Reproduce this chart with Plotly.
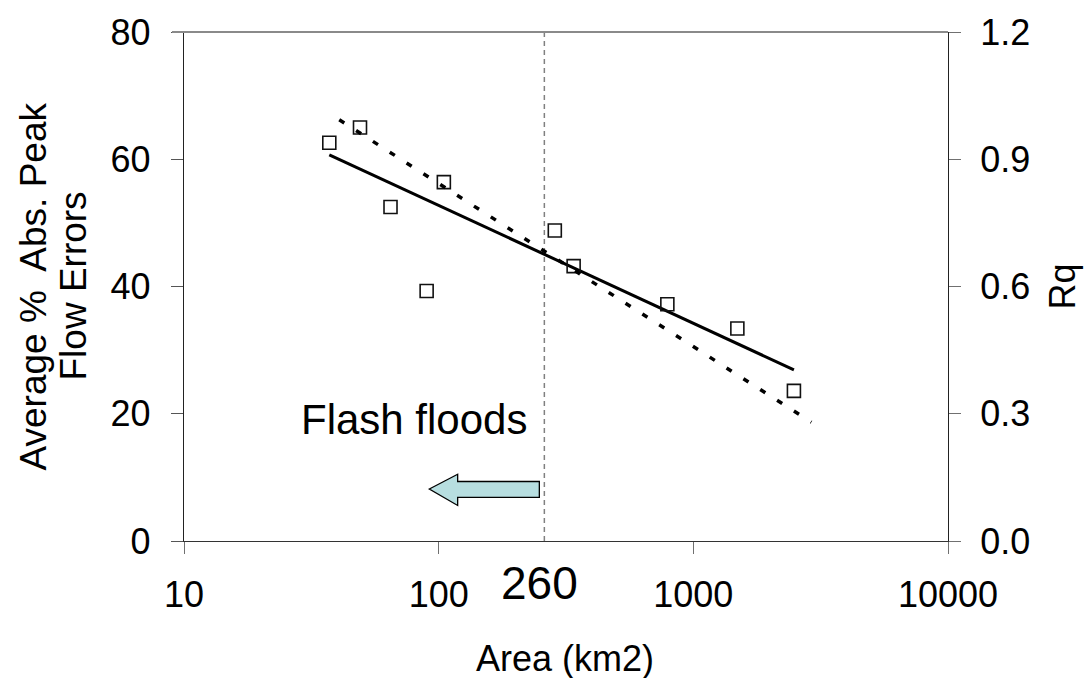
import plotly.graph_objects as go

# ---- data ----
area_km2 = [37.2, 49.1, 64.7, 89.7, 104.8, 285.8, 338.8, 790.6, 1489, 2483]
abs_peak_err = [62.6, 65.0, 52.5, 39.3, 56.4, 48.8, 43.2, 37.2, 33.4, 23.6]

trend_area = [37.2, 2483]
trend_err = [60.7, 26.9]

rq_area = [40.7, 2907]
rq_values = [0.993, 0.280]

threshold_area = 260
x_tickvals = [10, 100, 1000, 10000]
x_ticktext = ["10", "100", "1000", "10000"]
y_tickvals = [0, 20, 40, 60, 80]
y2_tickvals = [0, 0.3, 0.6, 0.9, 1.2]
y2_ticktext = ["0.0", "0.3", "0.6", "0.9", "1.2"]

FONT = "Liberation Sans, Arial, sans-serif"
W, H = 1085, 678
L, R, T, B = 184, 137, 25, 137
PW, PH = W - L - R, H - T - B


def px(x):
    return (x - L) / PW


def py(y):
    return (H - B - y) / PH


fig = go.Figure()

fig.add_trace(go.Scatter(
    x=[threshold_area, threshold_area], y=[0, 80], mode="lines",
    line=dict(color="#808080", width=1.5, dash="5px,4px"),
    showlegend=False, hoverinfo="skip"))

fig.add_trace(go.Scatter(
    x=trend_area, y=trend_err, mode="lines",
    line=dict(color="black", width=3), showlegend=False))

fig.add_trace(go.Scatter(
    x=rq_area, y=rq_values, mode="lines", yaxis="y2",
    line=dict(color="black", width=3.5, dash="6px,14px"), showlegend=False))

fig.add_trace(go.Scatter(
    x=area_km2, y=abs_peak_err, mode="markers",
    marker=dict(symbol="square-open", size=13, color="#111111",
                line=dict(width=1.6, color="#111111")),
    showlegend=False))

tickfont = dict(family=FONT, size=36, color="black")

fig.update_layout(
    width=W, height=H,
    margin=dict(l=L, r=R, t=T, b=B, pad=0),
    paper_bgcolor="white", plot_bgcolor="white",
    font=dict(family=FONT, color="black"),
    xaxis=dict(type="log", range=[1, 4], tickvals=x_tickvals, ticktext=x_ticktext,
               ticks="outside", ticklen=12, tickwidth=1.3, tickcolor="#707070",
               showline=True, linecolor="#333333", linewidth=1.3,
               showgrid=False, zeroline=False, tickfont=tickfont,
               ticklabelstandoff=10),
    yaxis=dict(range=[0, 80], tickvals=y_tickvals, ticks="outside", ticklen=12,
               tickwidth=1.3, tickcolor="#555555",
               showline=True, linecolor="#222222", linewidth=1.3,
               showgrid=False, zeroline=False, tickfont=tickfont,
               ticklabelstandoff=13),
    yaxis2=dict(range=[0, 1.2], tickvals=y2_tickvals, ticktext=y2_ticktext,
                overlaying="y", side="right", anchor="x",
                ticks="outside", ticklen=12, tickwidth=1.3, tickcolor="#707070",
                showline=True, linecolor="#222222", linewidth=1.3,
                showgrid=False, zeroline=False, tickfont=tickfont,
                ticklabelstandoff=12),
    yaxis3=dict(range=[0, 1.2], tickvals=y2_tickvals, overlaying="y", side="right",
                anchor="x", ticks="inside", ticklen=12, tickwidth=1.3,
                tickcolor="#333333", showticklabels=False, showline=False,
                showgrid=False, zeroline=False),
)

# top border of plot area
fig.add_shape(type="line", xref="paper", yref="paper", x0=-12 / PW, x1=1, y0=1, y1=1,
              line=dict(color="#8a8a8a", width=2))

# arrow pointing left
pts = [(429.3, 488.3), (457.7, 473.3), (457.7, 480.7), (539.3, 480.7),
       (539.3, 496.7), (457.7, 496.7), (457.7, 505.0)]
path = "M " + " L ".join(f"{px(a):.4f},{py(b):.4f}" for a, b in pts) + " Z"
fig.add_shape(type="path", xref="paper", yref="paper", path=path,
              fillcolor="#B7DEE0", line=dict(color="black", width=1.3))

ann = [
    dict(text="Flash floods", x=px(413.7), y=py(418), size=42, angle=0),
    dict(text="260", x=px(539), y=py(584), size=46, angle=0),
    dict(text="Area (km2)", x=px(564.5), y=py(660), size=36, angle=0),
    dict(text="Average %  Abs. Peak", x=px(33), y=py(283), size=37, angle=-90),
    dict(text="Flow Errors", x=px(73), y=py(283), size=37, angle=-90),
    dict(text="Rq", x=px(1062), y=py(283), size=36, angle=-90),
]
for a in ann:
    fig.add_annotation(text=a["text"], x=a["x"], y=a["y"], xref="paper", yref="paper",
                       xanchor="center", yanchor="middle", showarrow=False,
                       textangle=a["angle"],
                       font=dict(family=FONT, size=a["size"], color="black"))

fig.write_html("out.html")
